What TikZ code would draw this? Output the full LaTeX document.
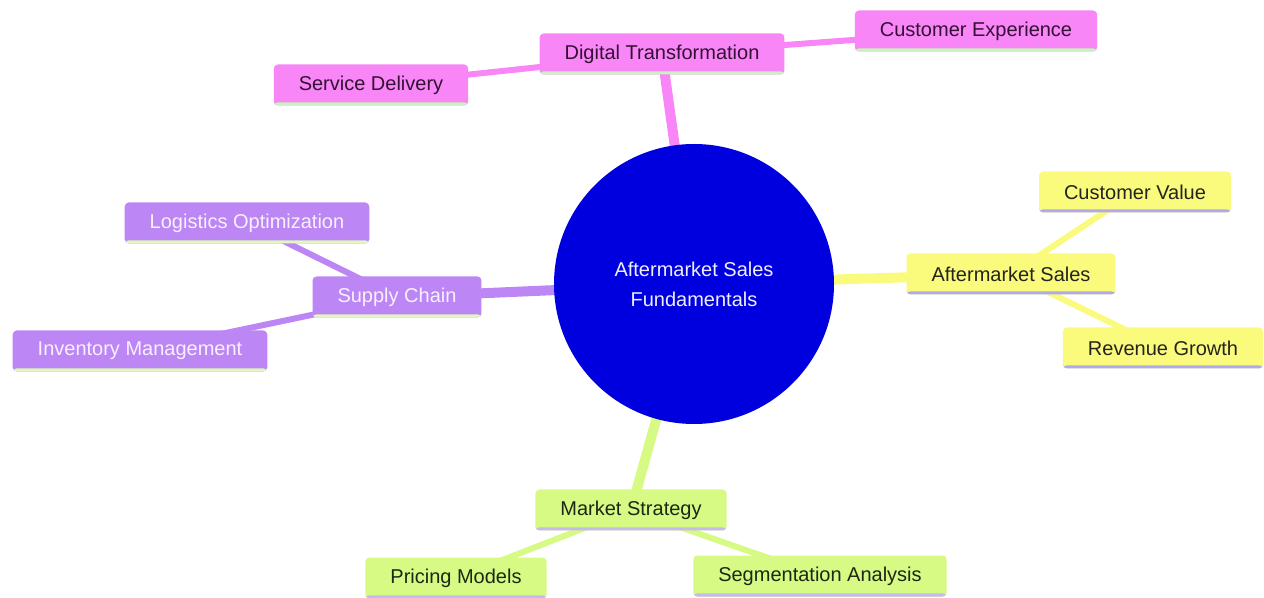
\documentclass[tikz,border=0pt]{standalone}
\usepackage{fontspec}
\setmainfont{Liberation Sans}
\usetikzlibrary{backgrounds,shapes.geometric}
\definecolor{rootblue}{RGB}{0,0,222}
\definecolor{pinkbox}{RGB}{248,134,246}
\definecolor{purplebox}{RGB}{188,134,244}
\definecolor{yellowbox}{RGB}{250,250,124}
\definecolor{greenbox}{RGB}{214,250,132}
\definecolor{greenrim}{RGB}{200,242,190}
\definecolor{limerim}{RGB}{226,246,196}
\definecolor{lavrim}{RGB}{176,170,236}
\definecolor{lilacrim}{RGB}{196,186,236}

\begin{document}
\begin{tikzpicture}[x=0.5pt, y=-0.5pt, every node/.style={rounded corners=2pt, font=\fontsize{10}{15}\selectfont, inner xsep=12.5pt, inner ysep=0pt, minimum height=20.5pt, align=center}, box/.style 2 args={fill=#1, path picture={\fill[#2] ([yshift=1.6pt]path picture bounding box.south west) rectangle (path picture bounding box.south east);}}, trunk/.style={line width=5pt}, twig/.style={line width=3pt}]
	\useasboundingbox (0,0) rectangle (1264,598);
	\node [circle, fill=rootblue, text={rgb,255:red,238;green,238;blue,255}, minimum size=140pt] (0) at (694,284) {Aftermarket Sales\\Fundamentals};
	% pink branch
	\node [box={pinkbox}{greenrim}, text={rgb,255:red,52;green,16;blue,52}] (1) at (662,54) {Digital Transformation};
	\node [box={pinkbox}{greenrim}, text={rgb,255:red,52;green,16;blue,52}] (11) at (976,31) {Customer Experience};
	\node [box={pinkbox}{greenrim}, text={rgb,255:red,52;green,16;blue,52}] (12) at (371,85) {Service Delivery};
	% yellow branch
	\node [box={yellowbox}{lavrim}, text={rgb,255:red,36;green,36;blue,30}] (2) at (1011,274) {Aftermarket Sales};
	\node [box={yellowbox}{lavrim}, text={rgb,255:red,36;green,36;blue,30}] (21) at (1135,192) {Customer Value};
	\node [box={yellowbox}{lavrim}, text={rgb,255:red,36;green,36;blue,30}] (22) at (1163,348) {Revenue Growth};
	% purple branch
	\node [box={purplebox}{limerim}, text={rgb,255:red,248;green,240;blue,255}] (3) at (397,297) {Supply Chain};
	\node [box={purplebox}{limerim}, text={rgb,255:red,248;green,240;blue,255}] (31) at (247,223) {Logistics Optimization};
	\node [box={purplebox}{limerim}, text={rgb,255:red,248;green,240;blue,255}] (32) at (140,351) {Inventory Management};
	% green branch
	\node [box={greenbox}{lilacrim}, text={rgb,255:red,28;green,40;blue,20}] (4) at (631,510) {Market Strategy};
	\node [box={greenbox}{lilacrim}, text={rgb,255:red,28;green,40;blue,20}] (41) at (456,578) {Pricing Models};
	\node [box={greenbox}{lilacrim}, text={rgb,255:red,28;green,40;blue,20}] (42) at (820,576) {Segmentation Analysis};

	\begin{scope}[on background layer]
		\draw [trunk, pinkbox] (0.center) -- (1.center);
		\draw [twig, pinkbox] (1.center) -- (11.center);
		\draw [twig, pinkbox] (1.center) -- (12.center);
		\draw [trunk, yellowbox] (0.center) -- (2.center);
		\draw [twig, yellowbox] (2.center) -- (21.center);
		\draw [twig, yellowbox] (2.center) -- (22.center);
		\draw [trunk, purplebox] (0.center) -- (3.center);
		\draw [twig, purplebox] (3.center) -- (31.center);
		\draw [twig, purplebox] (3.center) -- (32.center);
		\draw [trunk, greenbox] (0.center) -- (4.center);
		\draw [twig, greenbox] (4.center) -- (41.center);
		\draw [twig, greenbox] (4.center) -- (42.center);
	\end{scope}
\end{tikzpicture}
\end{document}
